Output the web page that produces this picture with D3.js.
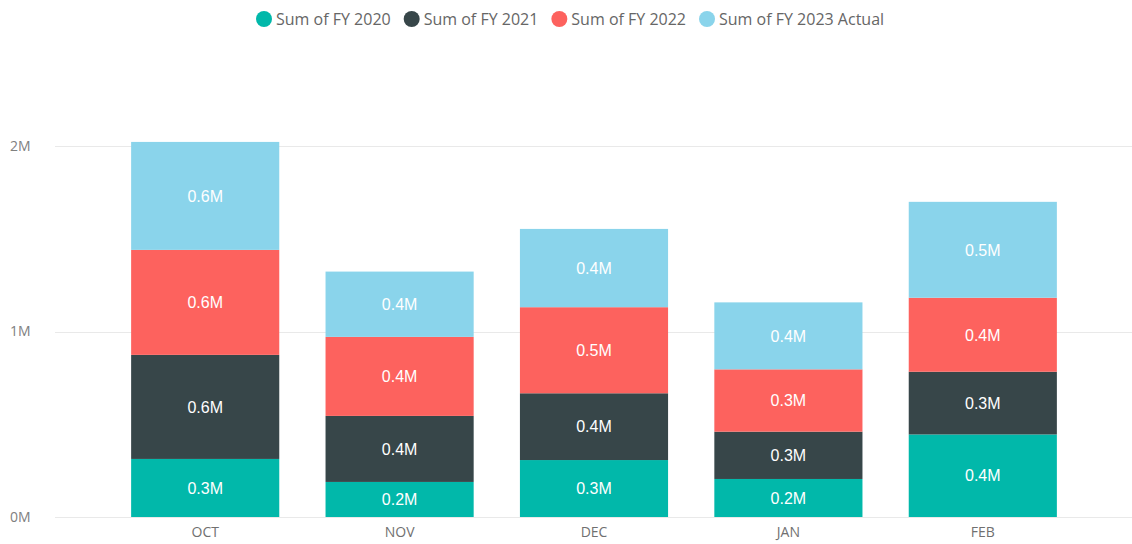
<!DOCTYPE html>
<html>
<head>
<meta charset="utf-8">
<script src="https://cdn.jsdelivr.net/npm/d3@7"></script>
<style>
  html, body { margin: 0; padding: 0; background: #fff; }
  svg { display: block; font-family: "Open Sans", "Noto Sans", sans-serif; }
</style>
</head>
<body>
<svg id="chart" width="1132" height="544"></svg>
<script>
// Monthly totals per fiscal year (stacked)
const months = ["OCT", "NOV", "DEC", "JAN", "FEB"];
const seriesNames = ["Sum of FY 2020", "Sum of FY 2021", "Sum of FY 2022", "Sum of FY 2023 Actual"];
const fy2020 = [313000, 189000, 307000, 205000, 445000];
const fy2021 = [561000, 356000, 360000, 255000, 338000];
const fy2022 = [566000, 426000, 464000, 336000, 399000];
const fy2023 = [582000, 352000, 422000, 361000, 517000];
const yTicks = [0, 1000000, 2000000];
const seriesColors = ["#01B8AA", "#374649", "#FD625E", "#8AD4EB"];

const svg = d3.select("#chart");
const plotLeft = 55, plotRight = 1132;

const seriesValues = [fy2020, fy2021, fy2022, fy2023];
const rows = months.map((m, i) => {
  const r = { month: m };
  seriesNames.forEach((s, k) => r[s] = seriesValues[k][i]);
  return r;
});
const stacked = d3.stack().keys(seriesNames)(rows);

const y = d3.scaleLinear().domain([0, 2000000]).range([517, 146]);
const x = d3.scaleBand().domain(months).range([108, 1080]).paddingInner(0.238).paddingOuter(0.119);

// gridlines
svg.append("g").selectAll("line").data(yTicks).join("line")
  .attr("x1", plotLeft).attr("x2", plotRight)
  .attr("y1", d => Math.round(y(d)) + 0.5).attr("y2", d => Math.round(y(d)) + 0.5)
  .attr("stroke", "#e9e9e9").attr("stroke-width", 1);

// y axis labels
const yAxis = d3.axisLeft(y).tickValues(yTicks).tickSize(0).tickPadding(0)
  .tickFormat(d => (d / 1e6) + "M");
const gy = svg.append("g").attr("transform", "translate(10,0)").call(yAxis);
gy.select(".domain").remove();
gy.selectAll("text").attr("text-anchor", "start").attr("fill", "#808080")
  .style("font-size", "14px").style("font-family", "\"Open Sans\", sans-serif");

// x axis labels
const xAxis = d3.axisBottom(x).tickSize(0).tickPadding(0);
const gx = svg.append("g").attr("transform", "translate(0,527)").call(xAxis);
gx.select(".domain").remove();
gx.selectAll("text").attr("fill", "#707070")
  .style("font-size", "14px").style("font-family", "\"Open Sans\", sans-serif");

// stacked bars
const layers = svg.append("g").selectAll("g").data(stacked).join("g")
  .attr("fill", (d, i) => seriesColors[i]);
layers.selectAll("rect").data(d => d).join("rect")
  .attr("x", d => x(d.data.month))
  .attr("width", x.bandwidth())
  .attr("y", d => y(d[1]))
  .attr("height", d => y(d[0]) - y(d[1]));

// value labels
const fmt = v => (v / 1e6).toFixed(1) + "M";
layers.selectAll("text").data(d => d.map(p => ({ p, v: p[1] - p[0] }))).join("text")
  .attr("x", d => x(d.p.data.month) + x.bandwidth() / 2)
  .attr("y", d => (y(d.p[0]) + y(d.p[1])) / 2)
  .attr("dy", "0.36em")
  .attr("text-anchor", "middle")
  .attr("fill", "#ffffff")
  .style("font-size", "16px")
  .style("font-family", "\"Liberation Sans\", Arial, sans-serif")
  .text(d => fmt(d.v));

// legend
const legend = svg.append("g");
const items = legend.selectAll("g").data(seriesNames).join("g");
items.append("circle").attr("r", 8).attr("cy", 19).attr("cx", 8)
  .attr("fill", (d, i) => seriesColors[i]);
items.append("text").attr("x", 20).attr("y", 19).attr("dy", "0.35em")
  .attr("fill", "#666666").style("font-size", "16px")
  .style("font-family", "\"Open Sans\", sans-serif")
  .text(d => d);
let cx = 0;
items.each(function() {
  const w = this.getBBox().width;
  d3.select(this).attr("transform", `translate(${cx},0)`);
  cx += w + 13;
});
legend.attr("transform", "translate(256,0)");
</script>
</body>
</html>
